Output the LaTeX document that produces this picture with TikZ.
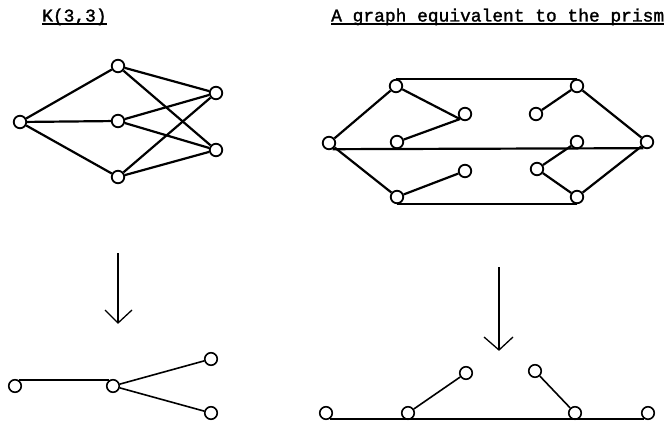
\documentclass[tikz,border=0pt]{standalone}
\usepackage{fontspec}
\setmonofont[AutoFakeBold=1.6]{Liberation Mono}
\usetikzlibrary{calc}
\begin{document}
\begin{tikzpicture}[x=1pt,y=-1pt,
  vtx/.style={circle,draw,line width=1.8pt,minimum size=12.5pt,inner sep=0pt,fill=white},
  svtx/.style={circle,draw,line width=1.6pt,minimum size=12.5pt,inner sep=0pt,fill=white},
  heavy/.style={line width=2.2pt},
  light/.style={line width=1.6pt},
  arrowline/.style={line width=1.3pt},
  title/.style={inner sep=0pt,anchor=base west,font=\ttfamily\bfseries\fontsize{17.9}{20}\selectfont},
  uline/.style={line width=1.4pt}]
\useasboundingbox (0,0) rectangle (672,422);

% headings
\node[title] (t1) at (42,21.5) {K(3,3)};
\node[title] (t2) at (331,21.5) {A graph equivalent to the prism};
\draw[uline] ($(t1.base west)+(0,2.5)$) -- ($(t1.base east)+(0,2.5)$);
\draw[uline] ($(t2.base west)+(0,2.5)$) -- ($(t2.base east)+(0,2.5)$);

% K(3,3)
\node[vtx] (L)  at (20,122) {};
\node[vtx] (T)  at (118,66) {};
\node[vtx] (M)  at (118,121) {};
\node[vtx] (Bt) at (118,177) {};
\node[vtx] (R1) at (216,93) {};
\node[vtx] (R2) at (216,150) {};
\draw[heavy] (L) -- (T) (L) -- (M) (L) -- (Bt);
\draw[heavy] (T) -- (R1) (T) -- (R2);
\draw[heavy] (M) -- (R1) (M) -- (R2);
\draw[heavy] (Bt) -- (R1) (Bt) -- (R2);

% graph equivalent to the prism
\node[vtx] (A)  at (329,143) {};
\node[vtx] (B1) at (396,86) {};
\node[vtx] (B2) at (397,142) {};
\node[vtx] (B3) at (397,197) {};
\node[vtx] (C1) at (465,114) {};
\node[vtx] (C2) at (465,171) {};
\node[vtx] (D1) at (536,114) {};
\node[vtx] (D2) at (537,169) {};
\node[vtx] (E1) at (577,86) {};
\node[vtx] (E2) at (577,142) {};
\node[vtx] (E3) at (577,197) {};
\node[vtx] (F)  at (647,142) {};
\draw[heavy] (B1.north) -- (E1.north);
\draw[heavy] (A.-60) -- (F.-120);
\draw[heavy] (B3.south) -- (E3.south);
\draw[heavy] (A) -- (B1) (A) -- (B3);
\draw[heavy] (B1) -- (C1.-135) (B2) -- (C1.-135);
\draw[heavy] (B3) -- (C2);
\draw[heavy] (E1) -- (D1) (E1) -- (F);
\draw[heavy] (E2) -- (D2) (D2) -- (E3) (E3) -- (F);

% arrows
\coordinate (a1s) at (118,253);
\coordinate (a1e) at (118,323);
\coordinate (a2s) at (499,267);
\coordinate (a2e) at (499,350);
\draw[arrowline] (a1s) -- (a1e);
\draw[arrowline] ($(a1e)+(-13,-13)$) -- (a1e) -- ($(a1e)+(14,-13)$);
\draw[arrowline] (a2s) -- (a2e);
\draw[arrowline] ($(a2e)+(-15,-13)$) -- (a2e) -- ($(a2e)+(14,-13)$);

% reduced K(3,3)
\node[svtx] (P1) at (15,386) {};
\node[svtx] (P2) at (113,386) {};
\node[svtx] (P3) at (211,359) {};
\node[svtx] (P4) at (211,413) {};
\draw[light] (P1.60) -- (P2.120);
\draw[light] (P2) -- (P3) (P2) -- (P4);

% reduced prism graph
\node[svtx] (Q1) at (326,413) {};
\node[svtx] (Q2) at (408,413) {};
\node[svtx] (Q3) at (466,373) {};
\node[svtx] (Q4) at (535,371) {};
\node[svtx] (Q5) at (575,413) {};
\node[svtx] (Q6) at (648,413) {};
\draw[light] (Q1.-60) -- (Q6.-120);
\draw[light] (Q2) -- (Q3) (Q4) -- (Q5);
\end{tikzpicture}
\end{document}
